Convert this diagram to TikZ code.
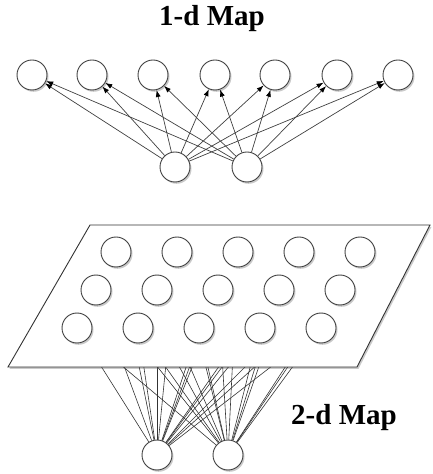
\documentclass[tikz,border=0pt]{standalone}
\usepackage{fontspec}
\setmainfont{Liberation Serif}
\usetikzlibrary{arrows.meta,shadows}
\pgfdeclarelayer{wires}
\pgfdeclarelayer{sheet}
\pgfsetlayers{wires,sheet,main}

\begin{document}
\begin{tikzpicture}
[x=1pt,y=1pt,%
  unit/.style={shape=circle,minimum size=30pt,inner sep=0pt,draw=black!75,line width=0.9pt,fill=white,%
    drop shadow={shadow xshift=1.5pt,shadow yshift=-1.8pt,opacity=0.35,fill=black!60}},%
  link/.style={draw=black!75,line width=0.7pt,-{Latex[length=7pt,width=5pt,color=black]}},%
  wire/.style={draw=black!80,line width=0.6pt},%
  title/.style={font=\fontsize{29}{34}\selectfont\bfseries}]
\useasboundingbox (0,0) rectangle (432,474);

\node[title] (t1) at (212,455) {1-d Map};
\node[unit] (m1) at (32,399) {};
\node[unit] (m2) at (92,399) {};
\node[unit] (m3) at (153,399) {};
\node[unit] (m4) at (215,399) {};
\node[unit] (m5) at (275,399) {};
\node[unit] (m6) at (337,399) {};
\node[unit] (m7) at (398,399) {};
\node[unit] (a1) at (175,307) {};
\node[unit] (a2) at (247,307) {};
\foreach \i in {1,...,7} {
  \draw[link] (a1) -- (m\i);
  \draw[link] (a2) -- (m\i);
}

\begin{pgfonlayer}{sheet}
  \filldraw[fill=white,draw=black!80,line width=0.9pt,%
    drop shadow={shadow xshift=1.5pt,shadow yshift=-1.8pt,opacity=0.35,fill=black!60}]
    (8,107) -- (357,107) -- (430,249) -- (90,249) -- cycle;
\end{pgfonlayer}
\foreach \r/\y/\s in {0/222/116,1/184/96,2/146/77}
  \foreach \k in {1,...,5} {
    \pgfmathtruncatemacro{\n}{5*\r+\k}
    \node[unit] (g\n) at ({\s+61*(\k-1)},\y) {};
  }
\node[unit] (b1) at (157,19) {};
\node[unit] (b2) at (228,19) {};
\begin{pgfonlayer}{wires}
  \foreach \n in {1,...,15} {
    \draw[wire] (b1) -- (g\n);
    \draw[wire] (b2) -- (g\n);
  }
\end{pgfonlayer}
\node[title] (t2) at (344,56) {2-d Map};
\end{tikzpicture}
\end{document}
